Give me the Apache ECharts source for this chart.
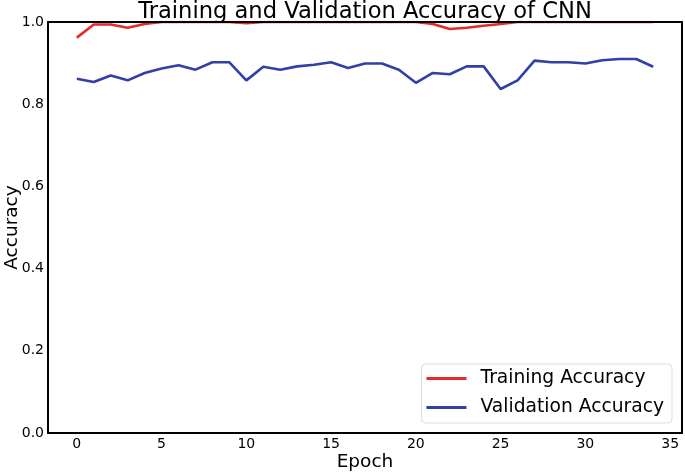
<!DOCTYPE html>
<html>
<head>
<meta charset="utf-8">
<script src="https://cdn.jsdelivr.net/npm/echarts@6/dist/echarts.min.js"></script>
<style>
  html, body { margin: 0; padding: 0; background: #fff; }
  #main { width: 685px; height: 472px; }
</style>
</head>
<body>
<div id="main"></div>
<script>
// epochs 0..34
const epochs = [0,1,2,3,4,5,6,7,8,9,10,11,12,13,14,15,16,17,18,19,20,21,22,23,24,25,26,27,28,29,30,31,32,33,34];
const trainAcc = [0.962,0.994,0.994,0.986,0.995,1.0,1.0,1.0,1.0,1.0,0.997,1.0,1.0,1.0,1.0,1.0,1.0,1.0,1.0,1.0,1.0,0.995,0.983,0.986,0.991,0.995,1.0,1.0,1.0,1.0,1.0,1.0,1.0,1.0,1.0];
const valAcc = [0.862,0.854,0.870,0.858,0.876,0.887,0.895,0.884,0.902,0.902,0.858,0.891,0.884,0.892,0.896,0.902,0.888,0.899,0.899,0.884,0.852,0.876,0.873,0.892,0.892,0.837,0.858,0.906,0.902,0.902,0.899,0.907,0.910,0.910,0.891];
const xTicks = [0,5,10,15,20,25,30,35];

const font = 'DejaVu Sans';
const chart = echarts.init(document.getElementById('main'));

function pairs(ys) {
    return epochs.map((e, i) => [e, ys[i]]);
}

const frame = { show: true, onZero: false, lineStyle: { color: '#000', width: 2 } };

const option = {
    animation: false,
    backgroundColor: '#fff',
    title: {
        text: 'Training and Validation Accuracy of CNN',
        left: 360,
        textAlign: 'center',
        top: -4,
        textStyle: { fontFamily: font, fontSize: 22.6, fontWeight: 'normal', color: '#000' }
    },
    grid: { left: 48, right: 3, top: 22, bottom: 39, containLabel: false, outerBoundsMode: 'none' },
    legend: {
        orient: 'vertical',
        right: 13,
        top: 364,
        padding: [5, 8, 6, 5],
        itemWidth: 40,
        itemHeight: 3,
        itemGap: 10,
        icon: 'rect',
        borderColor: '#dddddd',
        borderWidth: 1,
        borderRadius: 4,
        backgroundColor: 'rgba(255,255,255,0.8)',
        textStyle: { fontFamily: font, fontSize: 18.7, color: '#000', padding: [0, 0, 0, 9] },
        data: ['Training Accuracy', 'Validation Accuracy']
    },
    xAxis: [{
        type: 'value',
        min: -1.7,
        max: 35.7,
        z: 5,
        name: 'Epoch',
        nameLocation: 'middle',
        nameGap: 20,
        nameMoveOverlap: false,
        nameTextStyle: { fontFamily: font, fontSize: 18.5, color: '#000' },
        axisLine: frame,
        axisTick: { show: false },
        splitLine: { show: false },
        axisLabel: {
            customValues: xTicks,
            margin: 4,
            fontFamily: font, fontSize: 14, color: '#000'
        }
    }, {
        type: 'value',
        position: 'top',
        min: -1.7,
        max: 35.7,
        z: 5,
        axisLine: frame,
        axisTick: { show: false },
        axisLabel: { show: false },
        splitLine: { show: false }
    }],
    yAxis: [{
        type: 'value',
        min: 0,
        max: 1,
        interval: 0.2,
        z: 5,
        name: 'Accuracy',
        nameLocation: 'middle',
        nameGap: 26,
        nameMoveOverlap: false,
        nameTextStyle: { fontFamily: font, fontSize: 18.5, color: '#000' },
        axisLine: frame,
        axisTick: { show: false },
        splitLine: { show: false },
        axisLabel: {
            margin: 4,
            formatter: v => v.toFixed(1),
            fontFamily: font, fontSize: 14, color: '#000'
        }
    }, {
        type: 'value',
        position: 'right',
        min: 0,
        max: 1,
        z: 5,
        axisLine: frame,
        axisTick: { show: false },
        axisLabel: { show: false },
        splitLine: { show: false }
    }],
    series: [{
        name: 'Training Accuracy',
        type: 'line',
        data: pairs(trainAcc),
        showSymbol: false,
        symbol: 'none',
        clip: true,
        z: 2,
        color: '#e32b2b',
        lineStyle: { width: 2.6, color: '#e32b2b' }
    }, {
        name: 'Validation Accuracy',
        type: 'line',
        data: pairs(valAcc),
        showSymbol: false,
        symbol: 'none',
        clip: true,
        z: 2,
        color: '#3040a6',
        lineStyle: { width: 2.6, color: '#3040a6' }
    }]
};

chart.setOption(option);
</script>
</body>
</html>
